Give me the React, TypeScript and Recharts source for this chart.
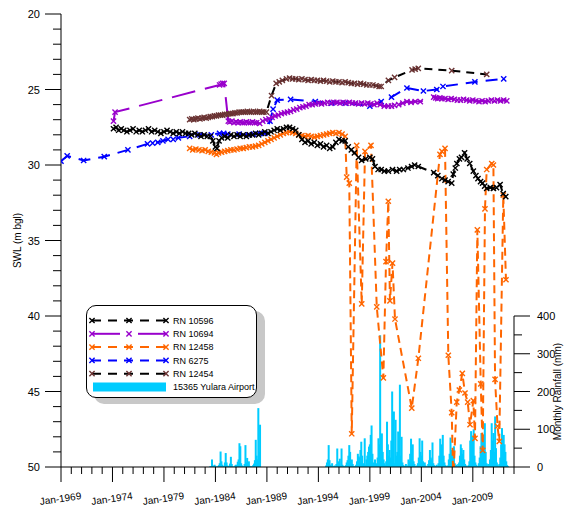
import React from "react";
import { ComposedChart, Line, Bar, XAxis, YAxis, ReferenceLine } from "recharts";

const FONT = "'Liberation Sans', Arial, Helvetica, sans-serif";

// ----- water levels, [decimal year, SWL (m bgl)] -----
const rn10596: [number, number][] = [
  [1974.1, 27.6], [1974.35, 27.5], [1974.6, 27.7], [1974.85, 27.6], [1975.1, 27.7], [1975.4, 27.8], [1975.7, 27.7],
  [1976.0, 27.6], [1976.3, 27.8], [1976.6, 27.7], [1976.9, 27.8], [1977.2, 27.7], [1977.5, 27.6], [1977.8, 27.8],
  [1978.1, 27.7], [1978.4, 27.8], [1978.7, 27.9], [1979.0, 27.8], [1979.3, 27.7], [1979.6, 27.8], [1979.9, 27.9],
  [1980.2, 27.8], [1980.5, 27.9], [1980.8, 27.8], [1981.1, 27.9], [1981.4, 27.9], [1981.7, 28.0], [1982.0, 27.9],
  [1982.3, 28.0], [1982.6, 28.1], [1982.9, 28.0], [1983.2, 28.1], [1983.5, 28.1], [1983.75, 28.4], [1984.0, 28.8],
  [1984.15, 28.9], [1984.35, 28.4], [1984.6, 28.2], [1984.9, 28.1], [1985.2, 28.2], [1985.5, 28.0], [1985.8, 28.1],
  [1986.1, 28.0], [1986.4, 28.1], [1986.7, 28.0], [1987.0, 28.1], [1987.3, 28.0], [1987.6, 28.0], [1987.9, 27.9],
  [1988.2, 28.0], [1988.5, 27.9], [1988.8, 27.8], [1989.1, 27.9], [1989.4, 27.8], [1989.7, 27.7], [1990.0, 27.6],
  [1990.3, 27.7], [1990.6, 27.6], [1990.9, 27.5], [1991.2, 27.5], [1991.5, 27.6], [1991.8, 27.7], [1992.1, 28.0],
  [1992.4, 28.3], [1992.7, 28.5], [1993.0, 28.4], [1993.3, 28.6], [1993.6, 28.5], [1993.9, 28.7], [1994.2, 28.6],
  [1994.5, 28.8], [1994.8, 28.7], [1995.1, 28.9], [1995.4, 28.8], [1995.7, 28.5], [1996.0, 28.3], [1996.3, 28.4],
  [1996.6, 28.4], [1996.9, 28.8], [1997.2, 29.0], [1997.5, 29.2], [1997.9, 29.5], [1998.2, 29.7], [1998.6, 29.6],
  [1999.0, 29.5], [1999.25, 29.6], [1999.5, 30.1], [1999.8, 30.3], [2000.1, 30.3], [2000.4, 30.4], [2000.8, 30.4],
  [2001.2, 30.3], [2001.6, 30.4], [2001.9, 30.3], [2002.25, 30.3], [2002.7, 30.2], [2003.05, 30.1], [2003.35, 30.0],
  [2003.7, 30.1], [2005.2, 30.5], [2005.6, 30.7], [2006.0, 30.9], [2006.3, 31.0], [2006.6, 31.1], [2006.95, 31.2],
  [2007.1, 30.6], [2007.3, 30.2], [2007.45, 29.9], [2007.7, 29.6], [2007.9, 29.5], [2008.2, 29.2], [2008.45, 29.6],
  [2008.7, 29.9], [2009.05, 30.4], [2009.3, 30.7], [2009.5, 30.9], [2009.75, 31.1], [2009.95, 31.2], [2010.15, 31.4],
  [2010.35, 31.55], [2010.7, 31.5], [2011.0, 31.55], [2011.3, 31.5], [2011.65, 31.3], [2011.95, 31.9], [2012.2, 32.1],
];

const rn10694: [number, number][] = [
  [1974.1, 27.1], [1974.25, 26.5], [1984.4, 24.7], [1984.55, 24.65], [1984.7, 24.6], [1984.85, 24.6], [1985.25, 27.1],
  [1985.4, 27.15], [1985.6, 27.1], [1985.8, 27.2], [1986.0, 27.15], [1986.2, 27.2], [1986.4, 27.15], [1986.6, 27.2],
  [1986.8, 27.2], [1987.0, 27.15], [1987.2, 27.2], [1987.4, 27.2], [1987.6, 27.15], [1987.8, 27.2], [1988.0, 27.2],
  [1988.3, 27.25], [1988.6, 27.1], [1988.9, 27.0], [1989.2, 26.95], [1989.5, 26.85], [1989.8, 26.75], [1990.1, 26.7],
  [1990.4, 26.6], [1990.7, 26.55], [1991.0, 26.5], [1991.3, 26.45], [1991.6, 26.35], [1991.9, 26.3], [1992.2, 26.2],
  [1992.5, 26.15], [1992.8, 26.1], [1993.1, 26.0], [1993.4, 26.0], [1993.7, 25.95], [1994.0, 25.9], [1994.3, 25.95],
  [1994.6, 25.9], [1994.9, 25.85], [1995.2, 25.9], [1995.5, 25.85], [1995.8, 25.85], [1996.1, 25.9], [1996.4, 25.85],
  [1996.7, 25.9], [1997.0, 25.85], [1997.3, 25.9], [1997.6, 25.9], [1997.9, 25.95], [1998.2, 25.9], [1998.5, 25.95],
  [1998.8, 25.9], [1999.1, 25.95], [1999.4, 26.0], [1999.7, 25.9], [2000.0, 26.0], [2000.4, 26.1], [2000.8, 26.1],
  [2001.1, 26.1], [2001.4, 26.05], [2001.8, 26.0], [2002.2, 25.9], [2002.6, 25.8], [2003.0, 25.85], [2003.4, 25.8],
  [2003.9, 25.8], [2005.2, 25.5], [2005.4, 25.55], [2005.6, 25.6], [2005.8, 25.55], [2006.0, 25.6], [2006.3, 25.6],
  [2006.6, 25.65], [2006.9, 25.6], [2007.2, 25.65], [2007.5, 25.7], [2007.8, 25.7], [2008.1, 25.65], [2008.4, 25.7],
  [2008.7, 25.75], [2009.0, 25.7], [2009.3, 25.75], [2009.6, 25.8], [2009.9, 25.75], [2010.2, 25.8], [2010.5, 25.75],
  [2010.8, 25.7], [2011.1, 25.75], [2011.4, 25.7], [2011.7, 25.75], [2012.0, 25.7], [2012.3, 25.75],
];

const rn12458: [number, number][] = [
  [1981.5, 28.9], [1981.8, 29.0], [1982.1, 28.95], [1982.4, 29.0], [1982.7, 29.05], [1983.0, 29.0], [1983.3, 29.1],
  [1983.6, 29.15], [1983.9, 29.2], [1984.1, 29.3], [1984.3, 29.2], [1984.6, 29.15], [1984.9, 29.1], [1985.2, 29.05],
  [1985.5, 29.0], [1985.8, 29.0], [1986.1, 28.95], [1986.4, 28.9], [1986.7, 28.9], [1987.0, 28.85], [1987.3, 28.8],
  [1987.6, 28.8], [1987.9, 28.75], [1988.2, 28.7], [1988.5, 28.6], [1988.8, 28.5], [1989.1, 28.4], [1989.4, 28.3],
  [1989.7, 28.2], [1990.0, 28.1], [1990.3, 28.0], [1990.6, 27.9], [1990.9, 27.85], [1991.2, 27.8], [1991.5, 27.85],
  [1991.8, 27.9], [1992.1, 28.0], [1992.4, 28.05], [1992.7, 28.1], [1993.0, 28.05], [1993.3, 28.1], [1993.6, 28.15],
  [1993.9, 28.1], [1994.2, 28.05], [1994.5, 28.0], [1994.8, 27.95], [1995.1, 27.9], [1995.4, 27.85], [1995.7, 27.9],
  [1996.0, 27.85], [1996.3, 27.95], [1996.6, 28.1], [1996.75, 30.8], [1997.0, 31.2], [1997.24, 47.8], [1997.72, 28.7],
  [1998.21, 39.2], [1998.53, 29.1], [1999.11, 28.7], [1999.67, 39.4], [2000.31, 44.1], [2000.57, 36.4], [2000.79, 32.4],
  [2000.95, 39.0], [2001.2, 36.5], [2001.44, 40.2], [2003.07, 46.1], [2003.71, 42.8], [2005.81, 29.3], [2006.0, 29.1],
  [2006.3, 28.9], [2006.62, 42.6], [2006.95, 46.4], [2007.1, 50.8], [2007.44, 45.7], [2007.69, 44.9], [2007.98, 43.8],
  [2008.24, 45.1], [2008.5, 45.7], [2008.73, 47.2], [2009.05, 45.6], [2009.21, 48.1], [2009.44, 34.3], [2009.77, 44.5],
  [2009.96, 48.9], [2010.18, 32.9], [2010.35, 30.3], [2010.84, 29.9], [2011.0, 30.0], [2011.16, 44.2], [2011.4, 47.3],
  [2011.57, 48.3], [2011.96, 32.0], [2012.22, 37.6],
];

const rn6275: [number, number][] = [
  [1969.0, 29.75], [1969.6, 29.4], [1971.2, 29.7], [1973.2, 29.45], [1975.5, 29.0], [1977.4, 28.6], [1977.9, 28.55],
  [1978.4, 28.5], [1978.9, 28.4], [1979.4, 28.3], [1979.9, 28.3], [1980.4, 28.2], [1981.5, 28.1], [1982.5, 28.0],
  [1983.6, 28.0], [1984.4, 27.9], [1984.8, 27.9], [1985.2, 27.95], [1986.3, 27.95], [1987.2, 28.0], [1987.7, 27.95],
  [1988.3, 27.9], [1988.8, 27.9], [1989.3, 27.1], [1989.6, 26.3], [1990.0, 25.7], [1991.3, 25.65], [1993.7, 25.8],
  [1995.3, 25.9], [1996.6, 25.9], [1999.0, 26.1], [2000.1, 25.8], [2001.1, 25.5], [2002.6, 24.9], [2004.2, 25.1],
  [2005.5, 25.0], [2006.1, 24.8], [2009.2, 24.5], [2012.0, 24.3],
];

const rn12454: [number, number][] = [
  [1981.5, 27.0], [1981.7, 26.95], [1981.9, 27.0], [1982.1, 26.95], [1982.3, 26.9], [1982.5, 26.95], [1982.7, 26.9],
  [1982.9, 26.85], [1983.1, 26.9], [1983.3, 26.85], [1983.5, 26.8], [1983.7, 26.8], [1983.9, 26.75], [1984.1, 26.75],
  [1984.3, 26.7], [1984.5, 26.7], [1984.7, 26.7], [1984.9, 26.65], [1985.1, 26.65], [1985.3, 26.6], [1985.5, 26.6],
  [1985.7, 26.6], [1985.9, 26.55], [1986.1, 26.55], [1986.3, 26.5], [1986.5, 26.5], [1986.7, 26.5], [1986.9, 26.5],
  [1987.1, 26.45], [1987.3, 26.5], [1987.5, 26.5], [1987.7, 26.45], [1987.9, 26.5], [1988.1, 26.5], [1988.3, 26.45],
  [1988.5, 26.5], [1988.7, 26.5], [1988.95, 26.5], [1989.45, 25.4], [1989.9, 24.6], [1990.2, 24.5], [1990.5, 24.4],
  [1990.9, 24.3], [1991.2, 24.25], [1991.5, 24.3], [1991.8, 24.3], [1992.1, 24.35], [1992.4, 24.3], [1992.7, 24.35],
  [1993.0, 24.4], [1993.3, 24.35], [1993.6, 24.4], [1993.9, 24.4], [1994.2, 24.45], [1994.5, 24.4], [1994.8, 24.45],
  [1995.1, 24.5], [1995.4, 24.45], [1995.7, 24.5], [1996.0, 24.5], [1996.3, 24.55], [1996.6, 24.5], [1996.9, 24.55],
  [1997.2, 24.6], [1997.5, 24.6], [1997.8, 24.65], [1998.1, 24.6], [1998.4, 24.65], [1998.7, 24.7], [1999.0, 24.7],
  [1999.3, 24.7], [1999.6, 24.75], [1999.9, 24.8], [2000.1, 24.8], [2000.8, 24.4], [2001.4, 24.2], [2003.1, 23.7],
  [2003.4, 23.65], [2003.7, 23.6], [2006.95, 23.75], [2010.35, 24.0],
];

// ----- monthly rainfall, Yulara Airport (mm) -----
const rainStartA = 1983.5; // Jul 1983
const rainMonthlyA = [
  2, 1, 20, 4, 2, 6,
  3, 1, 0, 2, 5, 10, 41, 15, 6, 3, 1, 12,
  37, 12, 4, 2, 3, 9, 27, 8, 2, 0, 1, 4,
  6, 3, 14, 20, 63, 55, 10, 4, 1, 2, 8, 58,
  12, 24, 6, 15, 3, 1, 2, 0, 5, 9, 18, 72,
  30, 20, 156, 40, 112,
];
const rainStartB = 1994.75; // Oct 1994
const rainMonthlyB = [
  4, 12, 20,
  58, 18, 6, 3, 10, 2, 1, 4, 2, 8, 49, 15,
  10, 22, 4, 49, 6, 3, 1, 2, 5, 12, 18, 30,
  58, 40, 12, 20, 8, 2, 1, 3, 6, 15, 35, 28,
  25, 45, 67, 30, 10, 4, 76, 6, 20, 30, 40, 54,
  60, 85, 110, 35, 12, 8, 20, 4, 10, 25, 76, 60,
  349, 60, 89, 40, 20, 10, 5, 15, 120, 60, 30, 45,
  25, 70, 200, 20, 147, 10, 125, 30, 40, 94, 60, 218,
  30, 80, 12, 5, 3, 2, 8, 1, 4, 20, 15, 35,
  75, 20, 60, 15, 8, 3, 2, 4, 10, 25, 76, 40,
  30, 70, 15, 6, 12, 4, 2, 1, 8, 18, 45, 25,
  20, 65, 10, 5, 2, 3, 6, 1, 10, 30, 75, 40,
  60, 85, 30, 12, 5, 2, 3, 4, 20, 35, 78, 45,
  40, 25, 55, 10, 3, 6, 2, 8, 12, 30, 60, 50,
  35, 45, 20, 8, 4, 2, 1, 5, 15, 70, 95, 60,
  80, 100, 30, 12, 6, 3, 2, 10, 25, 55, 90, 75,
  60, 85, 116, 40, 10, 4, 8, 3, 20, 45, 116, 70,
  90, 40, 134, 50, 12, 6, 3, 8, 25, 60, 103, 80,
  85, 60, 40, 15, 5, 2,
];

// ----- axes -----
const yearTicks = [
  1969, 1970, 1971, 1972, 1973, 1974, 1975, 1976, 1977, 1978, 1979, 1980, 1981, 1982, 1983,
  1984, 1985, 1986, 1987, 1988, 1989, 1990, 1991, 1992, 1993, 1994, 1995, 1996, 1997, 1998,
  1999, 2000, 2001, 2002, 2003, 2004, 2005, 2006, 2007, 2008, 2009, 2010, 2011, 2012, 2013,
];
const labelledYears = [1969, 1974, 1979, 1984, 1989, 1994, 1999, 2004, 2009];
const swlTicks = [
  20, 21, 22, 23, 24, 25, 26, 27, 28, 29, 30, 31, 32, 33, 34, 35,
  36, 37, 38, 39, 40, 41, 42, 43, 44, 45, 46, 47, 48, 49, 50,
];
const swlLabels = [20, 25, 30, 35, 40, 45, 50];
const rainTicks = [0, 50, 100, 150, 200, 250, 300, 350, 400];
const rainLabels = [0, 100, 200, 300, 400];

const toRows = (pts: [number, number][]) => pts.map(([t, v]) => ({ t, v }));

const rainRows = [
  ...rainMonthlyA.map((mm, i) => ({ t: rainStartA + i / 12, rain: mm })),
  ...rainMonthlyB.map((mm, i) => ({ t: rainStartB + i / 12, rain: mm })),
];

const series = [
  { name: "RN 6275", data: rn6275, line: "#0000FF", marker: "#0000FF", dash: "12 8" },
  { name: "RN 12454", data: rn12454, line: "#000000", marker: "#6B3434", dash: "8 6" },
  { name: "RN 10694", data: rn10694, line: "#9900CC", marker: "#9900CC", dash: "24 10" },
  { name: "RN 12458", data: rn12458, line: "#FF6600", marker: "#FF6600", dash: "8 5" },
  { name: "RN 10596", data: rn10596, line: "#000000", marker: "#000000", dash: "8 6" },
];

const legendOrder = ["RN 10596", "RN 10694", "RN 12458", "RN 6275", "RN 12454"];

const RAIN_COLOR = "#00CCFF";

function crossPath(cx: number, cy: number, s: number) {
  return `M${cx - s},${cy - s}L${cx + s},${cy + s}M${cx - s},${cy + s}L${cx + s},${cy - s}`;
}

const crossDot = (color: string) => (props: any) => {
  const { cx, cy, index } = props;
  if (cx == null || cy == null) return <g key={`d-${index}`} />;
  return <path key={`d-${index}`} d={crossPath(cx, cy, 2.6)} stroke={color} strokeWidth={1.4} fill="none" />;
};

// thin monthly column, centred on the bar's slot
function RainBar(props: any) {
  const { x, y, width, height } = props;
  if (x == null || y == null || !height || height <= 0) return <g />;
  return <rect x={x + (width || 0) / 2 - 1} y={y} width={2} height={height} fill={RAIN_COLOR} />;
}

function YearTick(props: any) {
  const { x, y, payload } = props;
  const major = labelledYears.includes(payload.value);
  return (
    <g>
      <line x1={x} y1={y} x2={x} y2={y + (major ? 15 : 7)} stroke="#000" />
      {major && (
        <text
          x={x}
          y={y + 35}
          textAnchor="middle"
          fontSize={10}
          fontFamily={FONT}
          fill="#000"
          transform={`rotate(-8, ${x}, ${y + 35})`}
        >
          {`Jan-${payload.value}`}
        </text>
      )}
    </g>
  );
}

function SwlTick(props: any) {
  const { x, y, payload } = props;
  const major = swlLabels.includes(payload.value);
  return (
    <g>
      <line x1={x - (major ? 16 : 8)} y1={y} x2={x} y2={y} stroke="#000" />
      {major && (
        <text x={x - 21} y={y + 4} textAnchor="end" fontSize={11} fontFamily={FONT} fill="#000">
          {payload.value}
        </text>
      )}
    </g>
  );
}

function RainTick(props: any) {
  const { x, y, payload } = props;
  const major = rainLabels.includes(payload.value);
  return (
    <g>
      <line x1={x} y1={y} x2={x + (major ? 16 : 8)} y2={y} stroke="#000" />
      {major && (
        <text x={x + 23} y={y + 4} textAnchor="start" fontSize={11} fontFamily={FONT} fill="#000">
          {payload.value}
        </text>
      )}
    </g>
  );
}

function AxisTitle({ viewBox, text, dx, frac }: any) {
  const vb = viewBox || { x: 0, y: 0, width: 0, height: 0 };
  const x = vb.x + dx;
  const y = vb.y + vb.height * frac;
  return (
    <text x={x} y={y} textAnchor="middle" fontSize={10} fontFamily={FONT} fill="#000" transform={`rotate(-90, ${x}, ${y})`}>
      {text}
    </text>
  );
}

function LegendBox() {
  const rowY = (i: number) => 14.5 + i * 13.3;
  return (
    <div
      style={{
        position: "absolute",
        left: 86,
        top: 305,
        width: 171,
        height: 93,
        boxSizing: "border-box",
        border: "1px solid #000",
        borderRadius: 10,
        background: "#fff",
        boxShadow: "8px 6px 0 #c8c8c8",
      }}
    >
      <svg width={169} height={91} style={{ display: "block" }}>
        {legendOrder.map((name, i) => {
          const s = series.find((d) => d.name === name)!;
          const y = rowY(i);
          const solid = name === "RN 10694";
          return (
            <g key={name}>
              {solid ? (
                <>
                  <line x1={5} y1={y} x2={33} y2={y} stroke={s.line} strokeWidth={2} />
                  <line x1={51} y1={y} x2={79} y2={y} stroke={s.line} strokeWidth={2} />
                </>
              ) : (
                <line x1={5} y1={y} x2={79} y2={y} stroke={s.line} strokeWidth={2} strokeDasharray="9 7" />
              )}
              {[5, 42, 79].map((mx) => (
                <path key={mx} d={crossPath(mx, y, 2.6)} stroke={s.marker} strokeWidth={1.4} fill="none" />
              ))}
              <text x={86} y={y + 3.3} fontSize={9} fontFamily={FONT} fill="#000">
                {name}
              </text>
            </g>
          );
        })}
        <rect x={6} y={76.5} width={73} height={9} fill={RAIN_COLOR} />
        <text x={86} y={84.3} fontSize={9} fontFamily={FONT} fill="#000">
          15365 Yulara Airport
        </text>
      </svg>
    </div>
  );
}

export default function App() {
  return (
    <div style={{ position: "absolute", left: 0, top: 0, width: 564, height: 511, overflow: "hidden", background: "#fff" }}>
      <ComposedChart width={564} height={511} data={rainRows} margin={{ top: 14, right: 0, bottom: 0, left: 0 }}>
        <XAxis
          type="number"
          dataKey="t"
          domain={[1969, 2013]}
          allowDataOverflow
          ticks={yearTicks}
          interval={0}
          height={44}
          tickSize={0}
          tickMargin={0}
          tickLine={false}
          axisLine={{ stroke: "#000" }}
          tick={YearTick}
        />
        <YAxis
          yAxisId="swl"
          orientation="left"
          reversed
          domain={[20, 50]}
          allowDataOverflow
          ticks={swlTicks}
          interval={0}
          width={61}
          tickSize={0}
          tickMargin={0}
          tickLine={false}
          axisLine={{ stroke: "#000" }}
          tick={SwlTick}
          label={(p: any) => <AxisTitle viewBox={p.viewBox} text="SWL (m bgl)" dx={21} frac={0.5} />}
        />
        <YAxis
          yAxisId="rain"
          orientation="right"
          domain={[0, 1200]}
          allowDataOverflow
          ticks={rainTicks}
          interval={0}
          width={50}
          tickSize={0}
          tickMargin={0}
          tickLine={false}
          axisLine={false}
          tick={RainTick}
          label={(p: any) => <AxisTitle viewBox={p.viewBox} text="Monthly Rainfall (mm)" dx={47} frac={0.8335} />}
        />
        <ReferenceLine
          yAxisId="rain"
          segment={[{ x: 2013, y: 0 }, { x: 2013, y: 400 }]}
          stroke="#000"
          ifOverflow="visible"
        />
        <Bar yAxisId="rain" dataKey="rain" fill={RAIN_COLOR} barSize={2} shape={RainBar} isAnimationActive={false} />
        {series.map((s) => (
          <Line
            key={s.name}
            yAxisId="swl"
            data={toRows(s.data)}
            dataKey="v"
            type="linear"
            stroke={s.line}
            strokeWidth={2}
            strokeDasharray={s.dash}
            dot={crossDot(s.marker)}
            activeDot={false}
            isAnimationActive={false}
          />
        ))}
      </ComposedChart>
      <LegendBox />
    </div>
  );
}
